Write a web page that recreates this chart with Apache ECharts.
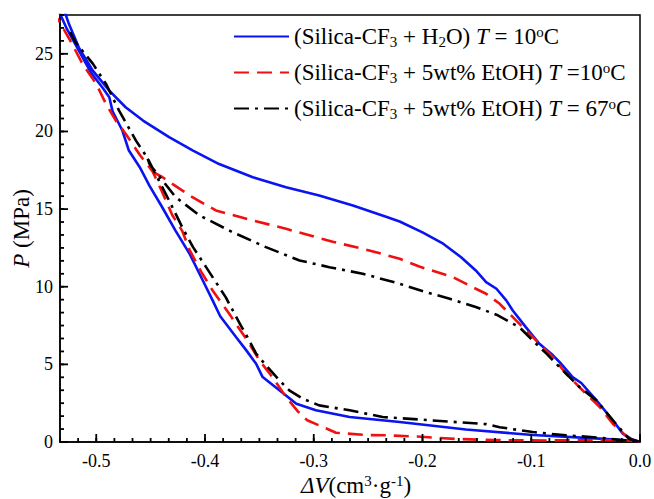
<!DOCTYPE html>
<html>
<head>
<meta charset="utf-8">
<script src="https://cdn.jsdelivr.net/npm/echarts@6/dist/echarts.min.js"></script>
<style>html,body{margin:0;padding:0;background:#fff}#c{width:654px;height:499px}</style>
</head>
<body>
<div id="c"></div>
<script>
// ---- data (ΔV in cm3/g, P in MPa) ----
// Silica-CF3 + H2O, T = 10 °C : intrusion branch then extrusion branch
var h2oV = [0,-0.008,-0.0158,-0.025,-0.040,-0.054,-0.062,-0.0725,-0.080,-0.0925,-0.105,-0.117,-0.123,-0.132,-0.1415,-0.151,-0.1645,-0.181,-0.200,-0.221,-0.2335,-0.264,-0.295,-0.3255,-0.356,-0.387,-0.411,-0.433,-0.457,-0.473,-0.488,-0.503,-0.516,-0.525,-0.5295,-0.533,
            -0.536,-0.527,-0.516,-0.505,-0.494,-0.488,-0.485,-0.476,-0.470,-0.460,-0.451,-0.440,-0.427,-0.414,-0.402,-0.393,-0.386,-0.3715,-0.362,-0.353,-0.347,-0.3316,-0.316,-0.298,-0.267,-0.221,-0.160,-0.0986,-0.037,0];
var h2oP = [0,0.2,0.54,1.4,2.68,3.8,4.18,5.04,5.58,6.33,7.4,8.47,9.12,9.87,10.3,11.05,11.9,12.77,13.5,14.2,14.5,15.23,15.87,16.4,17.05,17.9,18.77,19.63,20.7,21.56,22.63,23.9,25.4,26.9,27.8,28.4,
            28.0,26.6,25.2,23.8,22.8,22.2,21.3,20.06,18.77,17.7,16.5,15.2,13.6,12.1,10.4,9.12,8.1,6.76,5.9,5.04,4.18,3.33,2.47,2.04,1.61,1.29,0.8,0.45,0.22,0.05];
// Silica-CF3 + 5wt% EtOH, T = 10 °C : common top, extrusion, intrusion
var etoh10V = [-0.542,-0.534,-0.522,-0.5126,-0.500,-0.491,-0.482,-0.473,-0.460,-0.448,
               -0.440,-0.430,-0.421,-0.414,-0.403,-0.393,-0.3777,-0.3715,-0.361,-0.350,-0.338,-0.3255,-0.315,-0.306,-0.2795,-0.252,-0.2335,-0.205,-0.170,-0.134,-0.083,-0.037,-0.010,0,
               -0.010,-0.025,-0.037,-0.0495,-0.068,-0.080,-0.0986,-0.114,-0.129,-0.1415,-0.151,-0.172,-0.203,-0.221,-0.249,-0.2826,-0.3255,-0.356,-0.390,-0.414,-0.439,-0.448];
var etoh10P = [27.8,27.1,25.6,24.35,23.06,21.77,20.7,19.85,18.5,17.4,
               16.2,14.6,13.6,12.34,10.9,9.76,8.26,7.6,6.54,5.26,4.18,2.9,2.0,1.4,0.6,0.45,0.43,0.35,0.2,0.12,0.1,0.12,0.1,0.02,
               0.2,1.18,2.25,3.1,4.4,5.47,6.76,7.83,8.9,9.55,9.87,10.62,11.3,11.8,12.34,12.9,13.73,14.27,14.91,15.87,17.05,17.4];
// Silica-CF3 + 5wt% EtOH, T = 67 °C : common top, extrusion, intrusion
var etoh67V = [-0.524,-0.519,-0.503,-0.491,-0.479,-0.4635,-0.453,
               -0.445,-0.433,-0.421,-0.411,-0.399,-0.381,-0.367,-0.361,-0.353,-0.344,-0.3316,-0.3225,-0.310,-0.295,-0.267,-0.2366,-0.203,-0.1415,-0.129,-0.0986,-0.068,-0.037,0,
               -0.010,-0.025,-0.040,-0.0557,-0.074,-0.086,-0.0986,-0.111,-0.117,-0.132,-0.151,-0.175,-0.197,-0.221,-0.255,-0.2856,-0.313,-0.344,-0.3746,-0.405,-0.427,-0.439,-0.451,-0.453];
var etoh67P = [26.4,25.74,24.35,23.06,21.34,19.41,18.3,
               17.2,15.55,13.84,12.55,11.26,9.33,7.5,6.76,5.69,4.94,3.97,3.33,2.79,2.36,2.04,1.61,1.45,1.15,0.95,0.64,0.43,0.28,0,
               0.2,1.4,2.68,3.54,4.83,5.69,6.54,7.4,7.62,8.2,8.69,9.23,9.65,10.19,10.84,11.26,11.69,12.55,13.51,14.59,15.77,16.84,17.9,18.3];

// axis ranges, tick labels and tick steps
var xMin = -32/60, xMax = 0, yMin = 0, yMax = 27.5;
var xTicks = [-0.5,-0.4,-0.3,-0.2,-0.1,0.0];
var yTicks = [0,5,10,15,20,25];
var xMinorStep = 1/60, yMinorStep = 5/6;

function pairs(xs, ys){ return xs.map(function(x,i){ return [x, ys[i]]; }); }
function steps(step, lo, hi){ var out=[]; for (var k=Math.ceil(lo/step-1e-9); k*step<=hi+1e-9; k++) out.push(k*step); return out; }
var xMinor = steps(xMinorStep, xMin, xMax);
var yMinor = steps(yMinorStep, yMin, yMax);

var FONT = 'Liberation Serif';
var richCommon = {
  sub: {fontFamily: FONT, fontSize: 15, padding: [10,0,0,0], color:'#000'},
  sup: {fontFamily: FONT, fontSize: 15, padding: [0,0,10,0], color:'#000'},
  i: {fontFamily: FONT, fontSize: 23, fontStyle: 'italic', color:'#000'},
  n: {fontFamily: FONT, fontSize: 23, color:'#000'}
};
var legendText = {
  'H2O 10': '{n|(Silica-CF}{sub|3}{n| + H}{sub|2}{n|O) }{i|T}{n| = 10}{sup|o}{n|C}',
  'EtOH 10': '{n|(Silica-CF}{sub|3}{n| + 5wt% EtOH) }{i|T}{n| =10}{sup|o}{n|C}',
  'EtOH 67': '{n|(Silica-CF}{sub|3}{n| + 5wt% EtOH) }{i|T}{n| = 67}{sup|o}{n|C}'
};

// inward tick marks drawn through the axes' scales
function tickSeries(name, vals, isX, len){
  return {
    name: name, type:'custom', coordinateSystem:'cartesian2d', xAxisIndex:0, yAxisIndex:0,
    silent:true, clip:false, z:10,
    data: vals.map(function(v){ return isX ? [v, yMin] : [xMin, v]; }),
    renderItem: function(params, api){
      var p = api.coord([api.value(0), api.value(1)]);
      var shape = isX ? {x1:p[0], y1:p[1], x2:p[0], y2:p[1]-len} : {x1:p[0], y1:p[1], x2:p[0]+len, y2:p[1]};
      return {type:'line', shape:shape, style:{stroke:'#000', lineWidth:1.8, fill:null}};
    }
  };
}

var chart = echarts.init(document.getElementById('c'), null, {renderer: 'svg'});
var axLS = {color:'#000', width:1.5};
chart.setOption({
  animation: false,
  backgroundColor: '#fff',
  grid: {left:60, right:14, top:15, bottom:57, show:true, borderColor:'#000', borderWidth:1.5,
         backgroundColor:'transparent', containLabel:false, outerBoundsMode:'none'},
  legend: {
    orient:'vertical', left:233, top:24, padding:0, itemWidth:55, itemHeight:14, itemGap:11,
    itemStyle:{opacity:0},
    data:['H2O 10','EtOH 10','EtOH 67'],
    formatter: function(name){ return legendText[name]; },
    textStyle: {fontFamily: FONT, fontSize: 23, color:'#000', rich: richCommon}
  },
  xAxis: {
    type:'value', min:xMin, max:xMax, position:'bottom',
    name:'{i|ΔV}{n|(cm}{sup|3}{n|·g}{sup|-1}{n|)}', nameLocation:'middle', nameGap:31, nameMoveOverlap:false,
    nameTextStyle:{fontFamily:FONT, fontSize:23, color:'#000', rich: richCommon, padding:[0,0,0,12]},
    axisLine:{show:true, onZero:false, lineStyle:axLS},
    axisTick:{show:false},
    axisLabel:{show:true, customValues:xTicks, margin:10, fontFamily:FONT, fontSize:18, color:'#000',
      formatter:function(v){ return Number(v).toFixed(1); }},
    splitLine:{show:false}
  },
  yAxis: {
    type:'value', min:yMin, max:yMax, position:'left',
    name:'{i|P}{n| (MPa)}', nameLocation:'middle', nameGap:27, nameRotate:90, nameMoveOverlap:false,
    nameTextStyle:{fontFamily:FONT, fontSize:23, color:'#000', rich: richCommon},
    axisLine:{show:true, onZero:false, lineStyle:axLS},
    axisTick:{show:false},
    axisLabel:{show:true, customValues:yTicks, margin:7, fontFamily:FONT, fontSize:18, color:'#000'},
    splitLine:{show:false}
  },
  series: [
    {name:'H2O 10', type:'line', data:pairs(h2oV,h2oP), showSymbol:false, symbol:'none', smooth:false, clip:true, z:3,
     lineStyle:{color:'#0a14f0', width:2.6, type:'solid'}, itemStyle:{color:'#0a14f0'}},
    {name:'EtOH 10', type:'line', data:pairs(etoh10V,etoh10P), showSymbol:false, symbol:'none', smooth:false, clip:true, z:3,
     lineStyle:{color:'#f01010', width:2.6, type:[15,8]}, itemStyle:{color:'#f01010'}},
    {name:'EtOH 67', type:'line', data:pairs(etoh67V,etoh67P), showSymbol:false, symbol:'none', smooth:false, clip:true, z:3,
     lineStyle:{color:'#000', width:2.6, type:[15,6,3,6]}, itemStyle:{color:'#000'}},
    tickSeries('xMajorTicks', xTicks, true, 8),
    tickSeries('xMinorTicks', xMinor, true, 4),
    tickSeries('yMajorTicks', yTicks, false, 8),
    tickSeries('yMinorTicks', yMinor, false, 4)
  ]
});
</script>
</body>
</html>
